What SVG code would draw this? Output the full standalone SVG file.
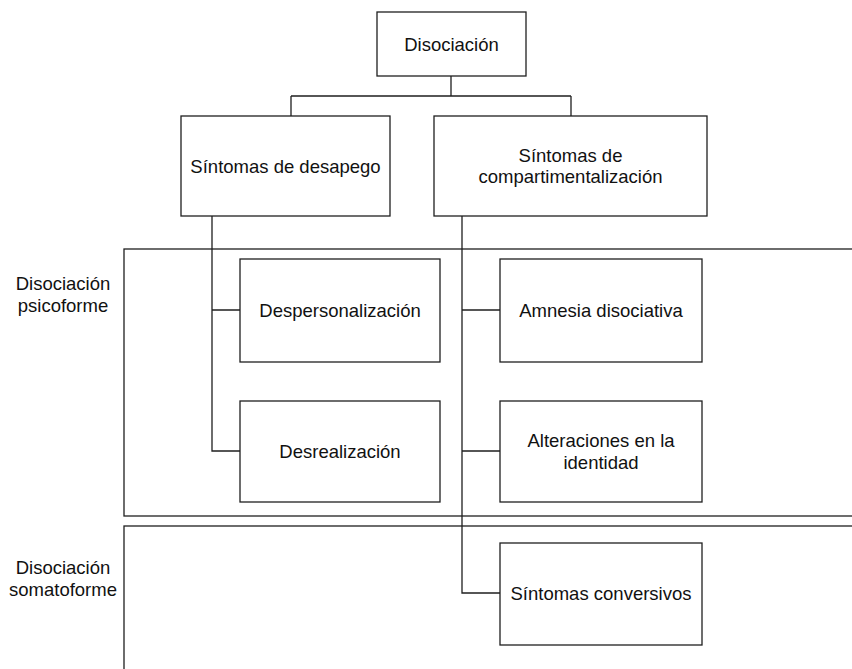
<svg xmlns="http://www.w3.org/2000/svg" width="852" height="669" viewBox="0 0 852 669">
<style>
.box{fill:#fff;stroke:#1f1f1f;stroke-width:1.3}
.panel{fill:none;stroke:#1f1f1f;stroke-width:1.3}
.con{fill:none;stroke:#1f1f1f;stroke-width:1.3}
text{font-family:"Liberation Sans",Arial,sans-serif;font-size:18.5px;fill:#111;text-anchor:middle}
</style>
<rect width="852" height="669" fill="#fff"/>
<g id="panel-psicoforme">
<rect class="panel" x="124" y="249" width="740" height="267"/>
<text x="63" y="290">Disociación</text>
<text x="63" y="311.5">psicoforme</text>
</g>
<g id="panel-somatoforme">
<rect class="panel" x="124" y="526" width="740" height="200"/>
<text x="63" y="574">Disociación</text>
<text x="63" y="595.5">somatoforme</text>
</g>
<g id="connectors">
<path class="con" d="M451,76V96M291,96H571M291,96V116M571,96V116"/>
<path class="con" d="M212,216V451H240M212,310H240"/>
<path class="con" d="M462,216V593H500M462,310H500M462,451H500"/>
</g>
<g id="n-disociacion">
<rect class="box" x="377" y="12" width="149" height="64"/>
<text x="451.5" y="50.5">Disociación</text>
</g>
<g id="n-desapego">
<rect class="box" x="181" y="116" width="209" height="100"/>
<text x="285.5" y="172.5">Síntomas de desapego</text>
</g>
<g id="n-compart">
<rect class="box" x="434" y="116" width="273" height="100"/>
<text x="570.5" y="161.5">Síntomas de</text>
<text x="570.5" y="183">compartimentalización</text>
</g>
<g id="n-despersonalizacion">
<rect class="box" x="240" y="259" width="200" height="103"/>
<text x="340" y="316.5">Despersonalización</text>
</g>
<g id="n-desrealizacion">
<rect class="box" x="240" y="401" width="200" height="101"/>
<text x="340" y="457.5">Desrealización</text>
</g>
<g id="n-amnesia">
<rect class="box" x="500" y="259" width="202" height="103"/>
<text x="601" y="316.5">Amnesia disociativa</text>
</g>
<g id="n-alteraciones">
<rect class="box" x="500" y="401" width="202" height="101"/>
<text x="601" y="446.5">Alteraciones en la</text>
<text x="601" y="468.5">identidad</text>
</g>
<g id="n-conversivos">
<rect class="box" x="500" y="543" width="202" height="102"/>
<text x="601" y="600">Síntomas conversivos</text>
</g>
</svg>
